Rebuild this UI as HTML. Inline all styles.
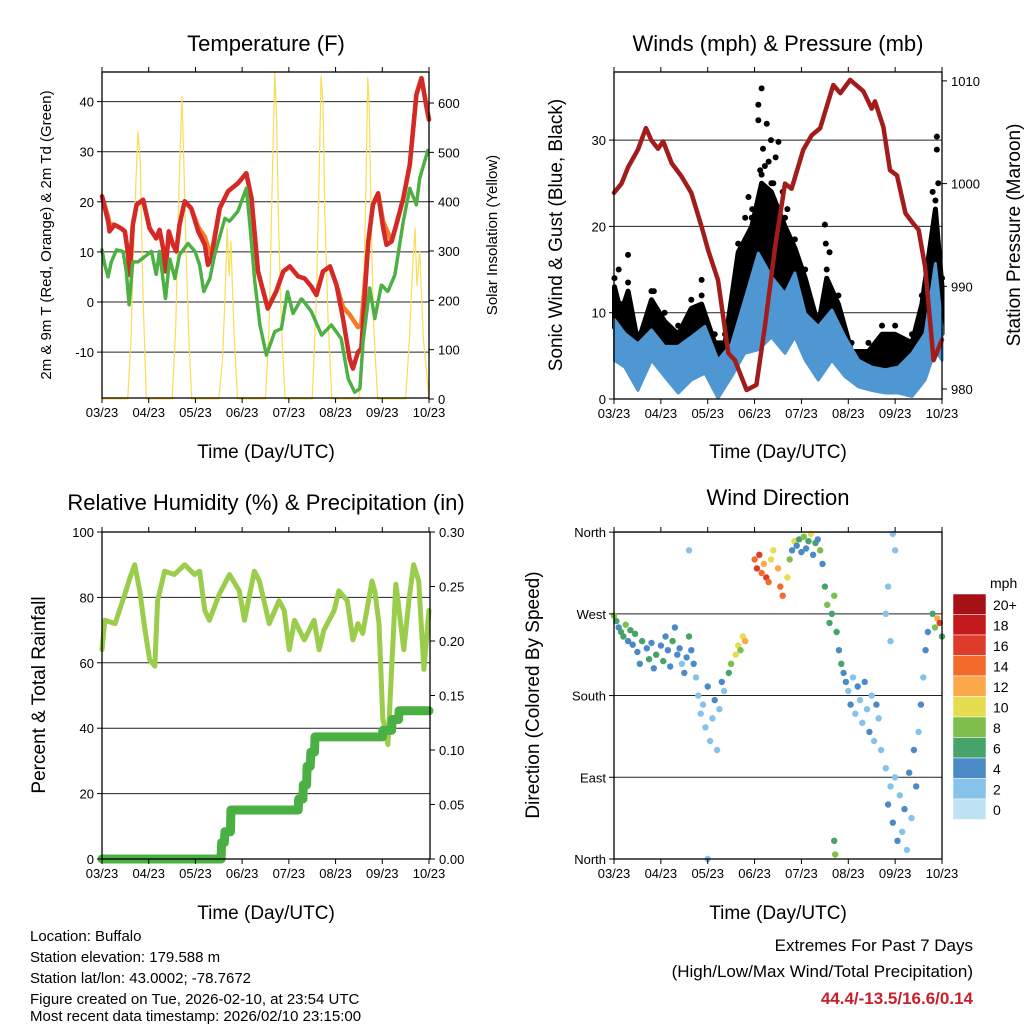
<!DOCTYPE html>
<html><head><meta charset="utf-8"><style>
html,body{margin:0;padding:0;background:#fff;}
svg{display:block;font-family:"Liberation Sans",sans-serif;}
</style></head><body>
<svg id="c" width="1024" height="1024" viewBox="0 0 1024 1024" xmlns="http://www.w3.org/2000/svg">
<g id="grids"></g><g id="marks"></g><g id="frames"></g>
<text x="266" y="51" font-size="22" text-anchor="middle">Temperature (F)</text>
<text x="778" y="51" font-size="22" text-anchor="middle">Winds (mph) &amp; Pressure (mb)</text>
<text x="266" y="510" font-size="22" text-anchor="middle">Relative Humidity (%) &amp; Precipitation (in)</text>
<text x="778" y="505" font-size="22" text-anchor="middle">Wind Direction</text>
<text transform="translate(51,235) rotate(-90)" font-size="15" text-anchor="middle">2m &amp; 9m T (Red, Orange) &amp; 2m Td (Green)</text>
<text transform="translate(497,235) rotate(-90)" font-size="15" text-anchor="middle">Solar Insolation (Yellow)</text>
<text transform="translate(562,235) rotate(-90)" font-size="19" text-anchor="middle">Sonic Wind &amp; Gust (Blue, Black)</text>
<text transform="translate(1020,235) rotate(-90)" font-size="19" text-anchor="middle">Station Pressure (Maroon)</text>
<text transform="translate(45,695) rotate(-90)" font-size="19" text-anchor="middle">Percent &amp; Total Rainfall</text>
<text transform="translate(539,695) rotate(-90)" font-size="19" text-anchor="middle">Direction (Colored By Speed)</text>
<text x="266" y="458" font-size="19" text-anchor="middle">Time (Day/UTC)</text>
<text x="778" y="458" font-size="19" text-anchor="middle">Time (Day/UTC)</text>
<text x="266" y="919" font-size="19" text-anchor="middle">Time (Day/UTC)</text>
<text x="778" y="919" font-size="19" text-anchor="middle">Time (Day/UTC)</text>
<g font-size="15">
<text x="30" y="941">Location: Buffalo</text>
<text x="30" y="962">Station elevation: 179.588 m</text>
<text x="30" y="983">Station lat/lon: 43.0002; -78.7672</text>
<text x="30" y="1004">Figure created on Tue, 2026-02-10, at 23:54 UTC</text>
<text x="30" y="1021">Most recent data timestamp: 2026/02/10 23:15:00</text>
</g>
<g font-size="17" text-anchor="end">
<text x="973" y="951">Extremes For Past 7 Days</text>
<text x="973" y="977">(High/Low/Max Wind/Total Precipitation)</text>
<text x="973" y="1004" fill="#c8202a" font-weight="bold">44.4/-13.5/16.6/0.14</text>
</g>
<g id="legend">
<text x="990" y="588" font-size="14">mph</text>
</g>
</svg>
<script>
// ---- Temperature data ----
const tDays=[0,0.13,0.16,0.27,0.41,0.49,0.56,0.59,0.66,0.74,0.88,1.02,1.16,1.23,1.31,1.36,1.43,1.52,1.59,1.66,1.77,1.91,2.06,2.20,2.27,2.34,2.52,2.70,2.91,3.09,3.20,3.34,3.55,3.73,3.88,4.02,4.20,4.34,4.48,4.59,4.73,4.88,5.02,5.16,5.30,5.37,5.48,5.55,5.70,5.80,5.91,6.02,6.09,6.20,6.30,6.45,6.59,6.73,6.84,6.95,7.0];
const tempRed=[21.1,16.1,14.1,15.4,14.7,14.1,9.4,5.4,15.4,19.4,20.4,14.7,12.7,14.4,10.7,6.1,14.1,11.4,10.1,15.4,20.1,18.7,14.1,11.4,7.4,8.7,18.7,22.1,23.7,25.7,20.7,6.1,-1.3,2.1,6.1,7.1,5.1,4.7,3.1,1.4,6.1,7.1,3.4,-3.3,-11.3,-13.3,-10,-9.3,12.1,19.4,21.7,14.7,11.4,12.1,15.4,20.7,27.4,41.4,44.7,38.7,36.4];
const tempOrange=[21.1,17,15.5,15.4,14.7,14.1,9.4,5.4,15.4,19.4,20.4,14.7,12.7,14.4,10.7,6.1,14.1,11.4,10.1,15.4,20.1,18.7,15,13,11,9.5,18.7,22.1,23.7,25.7,20.7,6.1,-1.3,2.1,6.1,7.1,5.1,4.7,3.1,1.4,6.1,7.1,3.4,-1,-2.5,-3.5,-5,-4.5,12.1,19.4,21.7,16,14.5,12.1,15.4,20.7,27.4,41.4,44.7,38.7,36.4];
const tdDays=[0,0.06,0.13,0.2,0.31,0.45,0.52,0.58,0.66,0.77,0.91,1.06,1.16,1.23,1.36,1.45,1.56,1.66,1.84,1.99,2.09,2.18,2.31,2.41,2.63,2.73,2.91,3.09,3.16,3.27,3.38,3.52,3.70,3.84,3.97,4.09,4.27,4.48,4.70,4.91,5.12,5.27,5.41,5.52,5.59,5.73,5.84,5.98,6.12,6.27,6.45,6.59,6.73,6.80,6.98];
const dewpoint=[10.4,7.4,5.0,8,10.4,10.1,6.1,-0.6,8,8,9,10.1,5.4,10.1,0.6,8.7,4.7,9.4,11.7,10.1,7.4,2.1,4.7,9.4,16.7,16.1,18.1,22.7,16.1,4.1,-4.6,-10.6,-5.9,-5.3,2.1,-2.3,0.7,-1.9,-6.6,-4.6,-7.3,-15.3,-18,-17.3,-7.9,2.8,-3.3,3.4,2.1,5.4,16.1,22.7,19.4,24.7,30.4];
const solarDays=[0,0.55,0.62,0.70,0.77,0.82,0.88,0.95,1.50,1.58,1.64,1.71,1.74,1.80,1.86,1.92,2.50,2.58,2.63,2.68,2.72,2.76,2.82,2.90,3.50,3.58,3.64,3.70,3.74,3.78,3.84,3.92,4.50,4.58,4.64,4.69,4.73,4.77,4.84,4.92,5.50,5.58,5.64,5.69,5.72,5.76,5.82,5.90,6.50,6.58,6.64,6.70,6.74,6.80,6.88,6.98,7.0];
const solarVals=[0,0,120,380,542,480,200,0,0,150,400,613,520,300,120,0,0,80,200,347,250,320,150,0,0,150,420,664,560,350,150,0,0,180,420,655,600,380,160,0,0,150,380,652,600,360,140,0,0,120,250,347,230,300,120,20,0];
const tempTicks=[-10,0,10,20,30,40];
const solarTicks=[0,100,200,300,400,500,600];
const dayLabels=["03/23","04/23","05/23","06/23","07/23","08/23","09/23","10/23"];
// ---- Wind data ----
const spdDays=[0.01,0.23,0.51,0.80,1.08,1.37,1.65,1.94,2.22,2.51,2.79,3.08,3.36,3.65,3.86,4.08,4.36,4.65,4.93,5.22,5.50,5.79,6.07,6.36,6.64,6.86,7.0];
const spdLow=[4.5,3.7,1.0,4.5,2.6,0.7,2.2,3.0,0.1,2.6,5.3,5.7,7.2,5.3,7.2,4.5,2.2,4.5,2.6,1.4,1.0,0.7,0.7,0.3,2.2,5.7,4.5];
const spdHigh=[9.2,7.6,6.4,8.0,6.1,6.1,7.2,8.4,4.5,6.4,11.5,16.9,14.2,12.2,14.6,9.9,8.4,10.3,7.2,4.5,3.7,3.4,3.7,5.3,7.6,15.7,8.4];
const gustDays=[0.01,0.15,0.30,0.51,0.80,1.08,1.37,1.65,1.87,2.15,2.37,2.65,2.94,3.15,3.36,3.65,3.86,4.08,4.36,4.54,4.79,5.07,5.43,5.72,6.00,6.36,6.57,6.86,7.0];
const gustHigh=[13,10,12.5,6.5,11.5,9,7.5,10.5,11,6.5,6.5,17,20,25,24,20,17.5,14,8.5,14,11,5.5,5.5,7.5,7.5,6.5,11,22,13];
const gustOutDays=[3.15,3.08,3.08,3.26,3.51,1.87,0.30,4.50,6.89,6.89,2.87,3.30,3.40,3.18,3.22,3.45,3.60,0.10,0.85,2.95,4.52,4.60,6.92,3.12,3.35,3.70,2.80,6.80];
const gustOutVals=[36.0,34.1,32.3,31.9,29.8,13.8,16.7,20.2,30.4,28.9,23.4,27.5,25.0,29,27,28,24,15,12.5,22,18,17,25,26.5,30,22,21,24];
const presDays=[0,0.16,0.30,0.51,0.68,0.80,0.94,1.05,1.23,1.44,1.65,1.87,2.01,2.22,2.44,2.58,2.83,3.04,3.22,3.44,3.65,3.79,4.04,4.22,4.40,4.54,4.68,4.83,5.04,5.32,5.50,5.57,5.75,5.89,6.04,6.22,6.39,6.50,6.64,6.82,7.0];
const pressure=[999.1,1000.0,1001.6,1003.3,1005.4,1004.2,1003.4,1004.1,1002.0,1000.7,999.1,995.8,993.5,990.6,983.5,982.8,979.9,980.4,986.1,993.9,1000.0,999.5,1003.3,1004.7,1005.4,1007.5,1009.6,1008.8,1010.1,1009.0,1007.3,1008.0,1005.5,1001.3,1000.8,997.1,996.1,995.5,991.9,982.8,984.8];
const windTicks=[0,10,20,30];
const presTicks=[980,990,1000,1010];
// ---- Humidity / precip ----
const rhDays=[0,0.06,0.28,0.49,0.60,0.70,0.81,0.92,1.02,1.13,1.19,1.34,1.55,1.77,1.98,2.09,2.20,2.30,2.51,2.73,2.94,3.05,3.26,3.37,3.58,3.79,3.90,4.01,4.12,4.33,4.54,4.65,4.75,4.97,5.07,5.25,5.37,5.48,5.58,5.78,5.84,5.93,6.01,6.12,6.22,6.29,6.31,6.46,6.57,6.67,6.78,6.89,7.0];
const rhVals=[64,73,72,81,86,90,82,70,61,59,79,88,87,90,87,88,76,73,81,87,82,73,88,85,72,79,76,64,73,67,73,64,70,76,82,79,67,72,69,85,82,72,43,35,64,84,82,64,79,90,85,58,76];
const rainDays=[0,2.55,2.56,2.62,2.63,2.75,2.76,4.2,4.21,4.3,4.31,4.38,4.39,4.46,4.47,4.55,4.56,6.0,6.01,6.2,6.21,6.35,6.36,7.0];
const rainVals=[0,0,0.015,0.015,0.025,0.025,0.045,0.045,0.055,0.055,0.068,0.068,0.085,0.085,0.098,0.098,0.112,0.112,0.118,0.118,0.128,0.128,0.136,0.136];
const rhTicks=[0,20,40,60,80,100];
const rainTicks=["0.00","0.05","0.10","0.15","0.20","0.25","0.30"];
// ---- Wind direction ----
const dirDays=[0,0.05,0.1,0.15,0.2,0.25,0.3,0.35,0.4,0.45,0.5,0.55,0.6,0.7,0.75,0.8,0.85,0.9,1.0,1.05,1.1,1.15,1.2,1.25,1.3,1.35,1.4,1.45,1.5,1.55,1.6,1.65,1.7,1.75,1.8,1.85,1.9,1.95,2.0,2.05,2.1,2.15,2.2,2.25,2.3,2.35,1.6,2.0,2.45,2.5,2.6,2.65,2.7,2.75,2.8,3.0,3.05,3.1,3.15,3.2,3.25,3.3,3.35,3.4,3.5,3.55,3.6,3.7,3.75,3.8,3.85,3.9,3.95,4.0,4.05,4.1,4.15,4.2,4.25,4.3,4.35,4.4,4.45,4.5,4.55,4.6,4.65,4.7,4.75,4.8,4.85,4.9,4.95,4.7,4.72,5.0,5.05,5.1,5.15,5.2,5.25,5.3,5.35,5.4,5.45,5.5,5.55,5.6,5.65,5.7,5.8,5.85,5.9,5.95,6.0,5.8,5.85,5.9,5.95,6.0,6.05,6.1,6.15,6.2,6.25,6.3,6.35,6.4,6.45,6.5,6.55,6.6,6.65,6.7,6.8,6.85,6.9,6.95,7.0];
const dirVals=[268,262,255,250,245,258,240,252,236,248,228,215,240,232,220,238,210,225,235,218,245,230,212,240,255,225,232,215,205,222,245,230,215,200,180,160,170,145,190,130,155,175,120,165,195,185,340,0,205,215,225,235,230,245,240,330,320,335,315,325,310,305,330,340,320,300,290,310,330,340,350,345,352,338,355,342,350,358,335,348,352,340,325,300,280,260,270,290,250,230,215,205,195,20,5,185,170,200,160,190,175,150,195,165,140,180,130,170,155,120,270,300,240,358,340,100,60,80,40,90,20,70,30,55,10,95,45,120,80,140,170,200,230,250,270,255,265,260,245];
const dirSpeeds=[7,6,4,6,5,7,4,6,3,5,4,3,5,4,6,4,3,5,4,6,4,3,4,5,4,3,4,2,3,4,6,3,4,2,2,2,2,2,3,2,2,3,1,2,4,2,1,1,6,8,10,9,7,10,11,14,15,16,14,12,16,13,10,9,11,13,14,10,8,4,9,3,6,4,7,3,5,10,4,6,3,8,4,6,7,6,5,7,6,4,6,4,3,6,7,2,3,2,2,4,2,2,3,2,3,2,2,4,2,2,1,1,1,1,1,2,3,2,4,2,3,1,2,4,2,3,2,4,3,2,3,2,4,3,6,8,12,16,6];
const dirTicks=["North","East","South","West","North"];
const legendLabels=["20+","18","16","14","12","10","8","6","4","2","0"];
const legendColors=["#a51116","#c41a1d","#df3b2b","#f26b2b","#fba84a","#e5dd4f","#7dbf4a","#46a36a","#4b8ac6","#86c2ea","#bfe2f5"];

const NS="http://www.w3.org/2000/svg";
const grids=document.getElementById('grids'),marks=document.getElementById('marks'),frames=document.getElementById('frames');
function mk(tag,attrs,parent){const e=document.createElementNS(NS,tag);for(const k in attrs)e.setAttribute(k,attrs[k]);parent.appendChild(e);return e;}
function txt(x,y,s,anchor,size,parent){const e=mk('text',{x:x,y:y,'font-size':size,'text-anchor':anchor},parent);e.textContent=s;return e;}

const XA=d=>102+d*327/7;
const XB=d=>614+d*328/7;
const Ty=v=>302-v*5.01, Sy=v=>399-v*0.4933;
const Wy=v=>399-v*8.63, Py=m=>389-(m-980)*10.27;
const Hy=v=>859-v*3.27, Ry=v=>859-v*1090;
const Dy=v=>859-v*0.908;
function pts(xs,ys,fx,fy){return xs.map((d,i)=>fx(d).toFixed(1)+','+fy(ys[i]).toFixed(1)).join(' ');}

function panel(name,x0,x1,y0,y1,fx){
  const r=mk('rect',{x:x0,y:y0,width:x1-x0,height:y1-y0,fill:'none',stroke:'#000','stroke-width':1.3},frames);
  
  
  dayLabels.forEach((l,i)=>{const x=fx(i);
    mk('line',{x1:x,x2:x,y1:y1,y2:y1+5,stroke:'#000'},frames);
    mk('line',{x1:x,x2:x,y1:y0,y2:y0-5,stroke:'#000'},frames);
    const t=txt(x,y1+19,l,'middle',13,frames);
    
    
  });
}
function leftTicks(name,vals,fy,x0,x1,grid,labels){
  vals.forEach((v,i)=>{const y=fy(v);
    if(grid){const g=mk('line',{x1:x0,x2:x1,y1:y,y2:y,stroke:'#222','stroke-width':1},grids);
      
      }
    mk('line',{x1:x0-5,x2:x0,y1:y,y2:y,stroke:'#000'},frames);
    const t=txt(x0-8,y+5,labels?labels[i]:String(v),'end',13,frames);
    
    
  });
}
function rightTicks(name,vals,fy,x1,labels){
  vals.forEach((v,i)=>{const y=fy(v);
    mk('line',{x1:x1,x2:x1+5,y1:y,y2:y,stroke:'#000'},frames);
    const t=txt(x1+9,y+5,labels?labels[i]:String(v),'start',13,frames);
    
    
  });
}
function line(name,xs,ys,fx,fy,color,w,dash){
  const p=mk('polyline',{points:pts(xs,ys,fx,fy),fill:'none',stroke:color,'stroke-width':w,'stroke-linejoin':'round','stroke-linecap':'round'},marks);
  if(dash)p.setAttribute('stroke-dasharray',dash);
  
  
  return p;
}

// Temperature panel
panel('temperature',102,429,72,398,XA);
leftTicks('temperature',tempTicks,Ty,102,429,true);
rightTicks('solar',solarTicks,Sy,429);
line('solar-insolation-line',solarDays,solarVals,XA,Sy,'#f9dd55',1.2);
line('temperature-9m-line',tDays,tempOrange,XA,Ty,'#f47c2a',4.5);
line('temperature-2m-line',tDays,tempRed,XA,Ty,'#d42a27',4.5);
line('dewpoint-2m-line',tdDays,dewpoint,XA,Ty,'#4db043',3.5,'3 1.5');

// Winds panel
panel('winds',614,942,72,399,XB);
leftTicks('winds',windTicks,Wy,614,942,true);
rightTicks('pressure',presTicks,Py,942);
{
  const top=gustDays.map((d,i)=>XB(d).toFixed(1)+','+Wy(gustHigh[i]).toFixed(1));
  const bot=spdDays.map((d,i)=>XB(d).toFixed(1)+','+Wy(spdHigh[i]*0.9).toFixed(1)).reverse();
  const g=mk('polygon',{points:top.concat(bot).join(' '),fill:'#000',stroke:'#000','stroke-width':5,'stroke-linejoin':'round'},marks);
  
  
  gustDays.forEach((d,i)=>{
    const c=mk('circle',{cx:XB(d),cy:Wy(gustHigh[i]+1),r:3,fill:'#000'},marks);
    
    
  });
  gustOutDays.forEach((d,i)=>{
    const c=mk('circle',{cx:XB(d),cy:Wy(gustOutVals[i]),r:3,fill:'#000'},marks);
    
    
  });
  const up=spdDays.map((d,i)=>XB(d).toFixed(1)+','+Wy(spdHigh[i]).toFixed(1));
  const lo=spdDays.map((d,i)=>XB(d).toFixed(1)+','+Wy(spdLow[i]).toFixed(1)).reverse();
  const b=mk('polygon',{points:up.concat(lo).join(' '),fill:'#4f97d3',stroke:'#4f97d3','stroke-width':3,'stroke-linejoin':'round'},marks);
  
  
}
line('pressure-line',presDays,pressure,XB,Py,'#a31c1c',4.5);

// Humidity panel
panel('humidity',102,430,532,859,XA);
leftTicks('humidity',rhTicks,Hy,102,430,true);
rightTicks('rain',rainTicks.map(Number),Ry,430,rainTicks);
line('relative-humidity-line',rhDays,rhVals,XA,Hy,'#9acd4c',5);
line('precipitation-line',rainDays,rainVals,XA,Ry,'#4bb043',9);

// Wind direction panel
panel('direction',614,942,532,859,XB);
leftTicks('direction',[0,90,180,270,360],Dy,614,942,true,dirTicks);
function spColor(s){let i=Math.round(s/2);if(i>10)i=10;return legendColors[10-i];}
dirDays.forEach((d,i)=>{
  const c=mk('circle',{cx:XB(d).toFixed(1),cy:Dy(dirVals[i]).toFixed(1),r:3.2,fill:spColor(dirSpeeds[i])},marks);
  
  
});

// Legend
const lg=document.getElementById('legend');
legendLabels.forEach((l,i)=>{
  const y=594+i*20.5;
  const r=mk('rect',{x:953,y:y,width:33,height:20.5,fill:legendColors[i],stroke:'#fff','stroke-width':0.5},lg);
  
  
  const t=txt(993,y+16,l,'start',14,lg);
  
  
});
</script>
</body></html>
